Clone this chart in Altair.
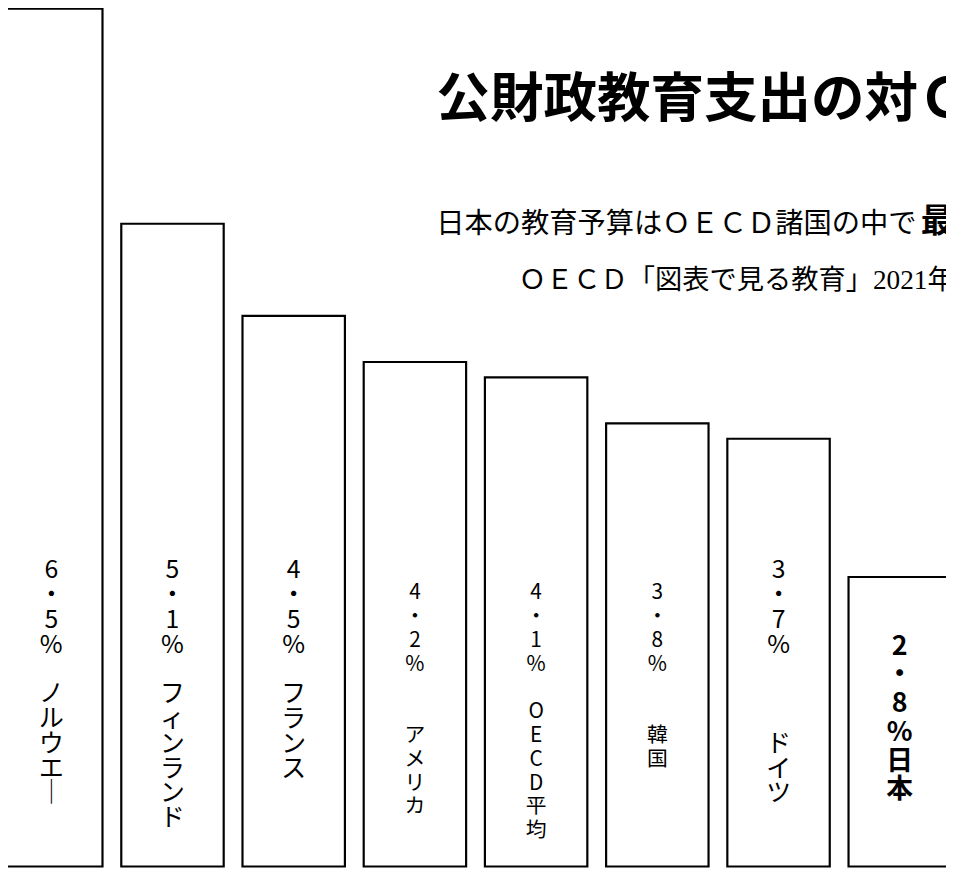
import altair as alt
import pandas as pd

# ---- data ----
countries = ["ノルウェー", "フィンランド", "フランス", "アメリカ", "OECD平均", "韓国", "ドイツ", "日本"]
names_drawn = ["ノルウエ｜", "フィンランド", "フランス", "アメリカ", "OECD平均", "韓国", "ドイツ", "日本"]
values = [6.5, 5.1, 4.5, 4.2, 4.1, 3.8, 3.7, 2.8]

# ---- label styling (not data) ----
gap_lines = [1, 1, 1, 2, 1, 2, 3, 0]
label_group = ["A", "A", "A", "B", "B", "B", "A", "J"]

title_text = "公財政教育支出の対ＧＤＰ比"
sub1_text = "日本の教育予算はＯＥＣＤ諸国の中で"
sub1_bold = "最低"
sub2_text = "ＯＥＣＤ「図表で見る教育」2021年版"

BLANK = "\u2800"  # blank glyph that is not trimmed away

def label_lines(v, name, gap):
    return list(f"{v:.1f}".replace(".", "・")) + ["%"] + [BLANK] * gap + list(name)

df = pd.DataFrame({
    "country": countries,
    "value": values,
    "grp": label_group,
})
df["label"] = [label_lines(v, n, g) for v, n, g in zip(values, names_drawn, gap_lines)]

W, H = 946, 864
x_scale = alt.Scale(domain=countries, range=[-8, 951], paddingInner=0.155,
                    paddingOuter=0, round=False)
y_scale = alt.Scale(domain=[0.903, 6.481], zero=False, nice=False)
X = alt.X("country:N", scale=x_scale, axis=None, sort=countries)

base = alt.Chart(df)

bars = base.mark_bar(fill="white", stroke="black", strokeWidth=2.2).encode(
    x=X,
    y=alt.Y("value:Q", scale=y_scale, axis=None),
    y2=alt.datum(0.915),
)

def label_layer(grp, top_value, size, line_h, weight="normal"):
    return base.transform_filter(f"datum.grp == '{grp}'").mark_text(
        baseline="top", align="center", fontSize=size, lineHeight=line_h,
        font="Noto Sans CJK JP", fontWeight=weight, color="black"
    ).encode(
        x=X,
        y=alt.Y("top:Q", scale=y_scale, axis=None),
        text="label",
    ).transform_calculate(top=str(top_value))

labels_a = label_layer("A", 2.92, 25, 25)
labels_b = label_layer("B", 2.765, 21, 24)
labels_j = label_layer("J", 2.43, 27, 29, "bold")

def note(text, x, y, size, weight="normal", font="Noto Sans CJK JP"):
    return alt.Chart(pd.DataFrame({"t": [text]})).mark_text(
        align="left", baseline="middle", fontSize=size, fontWeight=weight,
        font=font, color="black"
    ).encode(x=alt.value(x), y=alt.value(y), text="t:N")

title = note(title_text, 432, 90, 54, "bold")
sub1 = note(sub1_text, 432, 214, 28.5)
sub1b = note(sub1_bold, 432 + 28.5 * 17 + 4, 212, 33, "bold")
sub2 = note(sub2_text, 515, 272, 27.5, font="'Liberation Serif', 'Noto Sans CJK JP'")

chart = alt.layer(bars, labels_a, labels_b, labels_j, title, sub1, sub1b, sub2).properties(
    width=W, height=H,
    autosize=alt.AutoSizeParams(type="none"),
    padding=0,
    background="white",
).configure_view(stroke=None)

chart.save("out.html", embed_options={"renderer": "svg", "actions": False})
